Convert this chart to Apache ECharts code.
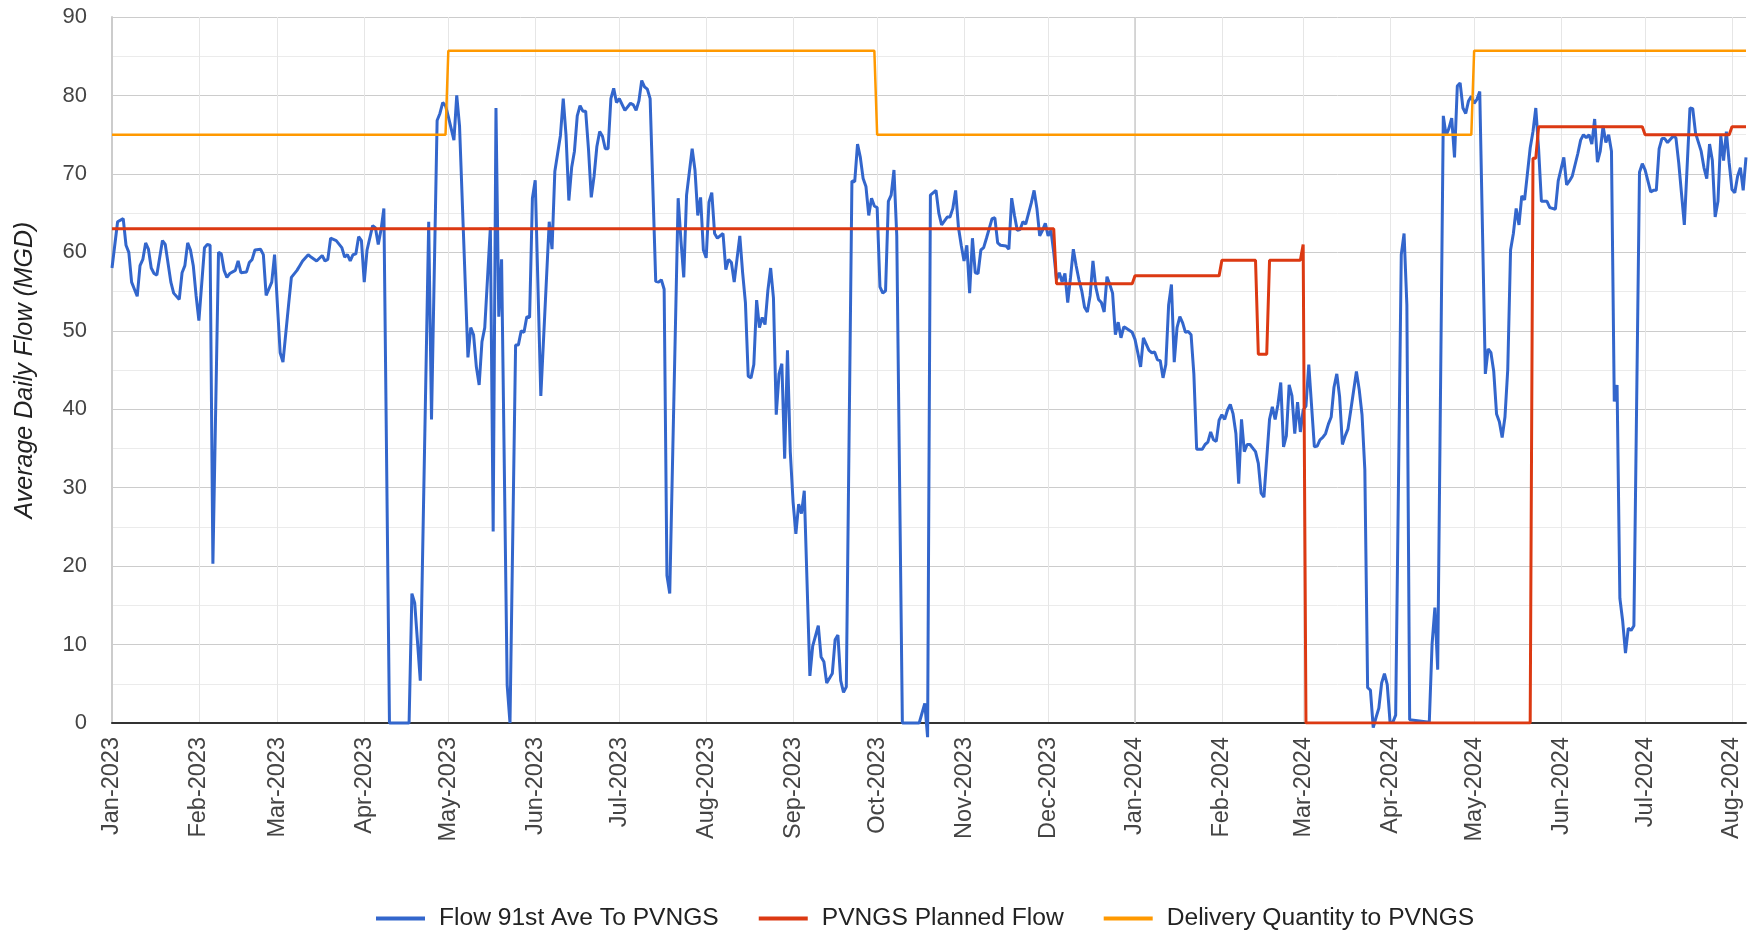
<!DOCTYPE html>
<html>
<head>
<meta charset="utf-8">
<title>Flow 91st Ave To PVNGS</title>
<script src="https://cdn.jsdelivr.net/npm/echarts@6/dist/echarts.min.js"></script>
<style>
    html, body { margin: 0; padding: 0; background: #fff; }
    #chart { width: 1750px; height: 933px; }
</style>
</head>
<body>
<div id="chart"></div>
<script>
    // days counted from 1 Jan 2023
    const flowDay = [
        0, 2, 4, 5, 6, 7, 8, 9, 10, 11, 12, 13, 14, 15, 16, 18, 19, 21, 22, 24, 25, 26, 27, 28, 29, 30, 31,
        33, 34, 35, 36, 38, 39, 40, 41, 42, 44, 45, 46, 48, 49, 50, 51, 53, 54, 55, 57, 58,
        60, 61, 63, 64, 66, 67, 68, 70, 71, 73, 75, 76, 77, 78, 80, 82, 83, 84, 85, 86, 87, 88, 89,
        90, 91, 93, 94, 95, 96, 97, 99, 106, 107, 108, 110, 113, 114, 116, 117, 118, 119,
        120, 122, 123, 124, 127, 128, 129, 130, 131, 132, 133, 134, 135, 136, 137, 138, 139, 141, 142, 144, 145, 146, 147, 148, 149, 150,
        151, 153, 156, 157, 158, 160, 161, 162, 163, 164, 165, 166, 167, 168, 169, 170, 171, 172, 173, 174, 175, 176, 177, 178, 179, 180, 181,
        183, 185, 186, 187, 188, 189, 190, 191, 192, 194, 195, 196, 197, 198, 199, 202, 203, 204, 205, 207, 208, 209, 210, 211,
        212, 213, 214, 215, 216, 218, 219, 220, 221, 222, 224, 225, 226, 227, 228, 229, 230, 231, 232, 233, 234, 235, 236, 237, 238, 239, 240, 241, 242,
        243, 244, 245, 246, 247, 249, 250, 252, 253, 254, 255, 257, 258, 259, 260, 261, 262, 264, 265, 266, 267, 268, 269, 270, 271, 272,
        273, 274, 275, 276, 277, 278, 279, 280, 282, 288, 290, 291, 292, 294, 295, 296, 298, 299, 300, 301, 302, 303,
        304, 305, 306, 307, 308, 309, 310, 311, 312, 314, 315, 316, 317, 319, 320, 321, 322, 323, 324, 325, 326, 328, 329, 330, 331, 332, 333,
        334, 335, 336, 337, 338, 339, 340, 341, 342, 343, 344, 345, 346, 347, 348, 349, 350, 351, 352, 353, 354, 355, 356, 357, 358, 359, 360, 361, 362, 364,
        365, 366, 367, 368, 369, 370, 371, 372, 373, 374, 375, 376, 377, 378, 379, 380, 381, 382, 383, 384, 385, 386, 387, 389, 390, 391, 392, 393, 394, 395,
        396, 397, 398, 399, 400, 401, 402, 403, 404, 405, 406, 408, 409, 410, 411, 413, 414, 415, 416, 417, 418, 419, 420, 421, 422, 423, 424,
        425, 426, 427, 429, 430, 431, 432, 433, 434, 435, 436, 437, 438, 439, 440, 441, 442, 444, 445, 446, 447, 448, 449, 450, 451, 452, 453, 454, 455,
        456, 457, 458, 460, 461, 462, 463, 470, 471, 472, 473, 475, 476, 477, 478, 479, 480, 481, 482, 483, 484, 485,
        486, 487, 488, 490, 491, 492, 493, 494, 495, 496, 497, 498, 499, 500, 501, 502, 503, 504, 505, 506, 507, 508, 509, 510, 512, 513, 515, 516,
        518, 519, 520, 521, 523, 524, 525, 526, 527, 528, 529, 530, 531, 532, 533, 534, 535, 536, 537, 538, 539, 540, 541, 542, 543, 545, 546,
        547, 549, 550, 551, 552, 553, 554, 555, 557, 558, 559, 561, 563, 564, 565, 567, 568, 569, 570, 571, 572, 573, 574, 575, 576, 577, 578, 579, 580, 581, 582, 583
    ];
    const flowMgd = [
        58.0, 63.9, 64.3, 60.9, 60.0, 56.2, 55.3, 54.4, 58.3, 59.1, 61.2, 60.4, 58.0, 57.3, 57.1, 61.5, 61.0, 56.2, 54.8, 54.0, 57.4, 58.3, 61.2, 60.3, 58.3, 54.5, 51.3,
        60.6, 61.0, 60.9, 20.3, 60.0, 59.8, 57.7, 56.8, 57.3, 57.7, 58.9, 57.4, 57.5, 58.7, 59.1, 60.3, 60.4, 59.7, 54.5, 56.2, 59.7,
        47.2, 46.0, 53.3, 56.8, 57.7, 58.3, 58.9, 59.7, 59.4, 58.9, 59.6, 58.9, 59.1, 61.8, 61.5, 60.6, 59.4, 59.7, 58.9, 59.7, 59.8, 62.0, 61.5,
        56.2, 60.3, 63.4, 63.1, 61.0, 62.9, 65.6, 0, 0, 16.5, 15.3, 5.4, 63.9, 38.7, 76.8, 77.7, 79.1, 78.7,
        77.3, 74.3, 80.0, 76.1, 46.6, 50.4, 49.5, 45.4, 43.1, 48.6, 50.4, 56.8, 63.2, 24.4, 78.4, 51.8, 59.1, 4.8, 0, 48.2, 48.2, 50.0, 49.8, 51.8, 51.7, 66.9,
        69.2, 41.7, 63.9, 60.4, 70.3, 74.9, 79.6, 74.9, 66.6, 70.8, 72.9, 77.4, 78.7, 78.0, 78.0, 73.2, 67.0, 69.7, 73.5, 75.4, 74.8, 73.2, 73.2, 79.6, 80.9, 79.1, 79.6,
        78.1, 79.0, 78.8, 78.1, 79.3, 81.9, 81.1, 80.8, 79.6, 56.3, 56.2, 56.5, 55.3, 18.8, 16.5, 66.9, 61.5, 56.8, 67.3, 73.2, 70.5, 64.7, 67.0, 60.3,
        59.3, 66.4, 67.6, 62.4, 61.8, 62.4, 57.8, 59.1, 58.7, 56.2, 62.1, 57.4, 53.6, 44.2, 44.0, 45.7, 53.9, 50.4, 51.7, 50.8, 55.1, 58.0, 54.2, 39.3, 44.5, 45.8, 33.7, 47.5, 34.6,
        28.2, 24.1, 27.9, 26.7, 29.6, 6.0, 9.8, 12.4, 8.4, 7.8, 5.1, 6.3, 10.6, 11.2, 5.4, 3.9, 4.6, 69.1, 69.0, 73.8, 72.1, 69.4, 68.4, 64.7, 66.9, 65.9,
        65.7, 55.6, 54.8, 55.1, 66.5, 67.3, 70.5, 62.1, 0, 0, 2.5, -1.8, 67.3, 67.9, 65.0, 63.5, 64.5, 64.5, 65.6, 67.9, 63.2, 60.9,
        58.9, 60.9, 54.8, 61.8, 57.4, 57.3, 60.3, 60.6, 61.8, 64.3, 64.4, 61.2, 60.9, 60.8, 60.4, 66.9, 64.7, 62.8, 62.9, 63.9, 63.6, 66.3, 67.9, 65.6, 62.1, 62.8, 63.7,
        62.1, 62.8, 60.0, 56.5, 57.4, 56.2, 57.3, 53.6, 56.8, 60.4, 58.3, 56.5, 55.1, 53.0, 52.4, 54.5, 58.9, 55.6, 54.0, 53.6, 52.4, 56.9, 55.9, 54.8, 49.5, 51.1, 49.1, 50.5, 50.3, 49.8,
        48.9, 47.2, 45.4, 49.1, 48.3, 47.5, 47.2, 47.3, 46.3, 46.2, 44.0, 45.7, 53.3, 55.9, 46.0, 50.4, 51.8, 51.0, 49.8, 49.9, 49.5, 44.5, 34.9, 34.9, 35.5, 35.8, 37.1, 36.1, 35.9, 38.6,
        39.3, 38.7, 39.9, 40.6, 39.4, 36.9, 30.5, 38.7, 34.6, 35.5, 35.5, 34.6, 33.1, 29.3, 28.8, 38.7, 40.3, 38.7, 40.6, 43.4, 35.2, 36.6, 43.1, 41.7, 36.9, 40.9, 37.1,
        39.9, 40.4, 45.7, 35.2, 35.3, 36.1, 36.4, 36.9, 38.1, 39.0, 42.8, 44.5, 41.6, 35.5, 36.6, 37.5, 39.9, 44.8, 42.5, 39.3, 32.3, 4.5, 4.2, -0.6, 0.7, 1.9, 5.1, 6.3, 4.9,
        0.1, 0.1, 1.0, 59.7, 62.4, 53.3, 0.4, 0.1, 10.1, 14.7, 6.8, 77.4, 74.9, 75.8, 77.1, 72.1, 81.2, 81.6, 78.4, 77.7, 79.3, 79.9,
        79.0, 79.5, 80.5, 44.5, 47.7, 47.2, 44.8, 39.4, 38.4, 36.4, 39.0, 45.1, 60.3, 62.4, 65.6, 63.5, 67.2, 66.7, 70.0, 73.3, 75.4, 78.4, 73.2, 66.5, 66.5, 65.7, 65.5, 69.1,
        72.1, 68.6, 69.1, 69.7, 72.6, 74.3, 75.0, 74.6, 75.0, 73.8, 77.0, 71.5, 72.9, 76.1, 74.0, 75.0, 72.9, 41.0, 43.1, 15.9, 13.0, 8.9, 12.1, 11.8, 12.4, 70.2, 71.3,
        70.5, 67.7, 67.9, 67.9, 73.2, 74.5, 74.5, 74.0, 74.8, 74.6, 71.4, 63.5, 78.4, 78.3, 75.2, 72.9, 70.8, 69.4, 73.8, 71.7, 64.5, 66.5, 74.9, 71.7, 75.4, 71.4, 68.0, 67.6, 69.7, 70.8, 67.9, 72.1
    ];

    const plannedDay = [0, 336, 337, 364, 365, 395, 396, 408, 409, 412, 413, 424, 425, 426, 506, 507, 508, 509, 546, 547, 577, 578, 583];
    const plannedMgd = [63, 63, 56, 56, 57, 57, 59, 59, 47, 47, 59, 59, 61, 0, 0, 72, 72, 76, 76, 75, 75, 76, 76];

    const deliveryDay = [0, 119, 120, 272, 273, 485, 486, 583];
    const deliveryMgd = [75, 75, 85.7, 85.7, 75, 75, 85.7, 85.7];

    const monthNames = ['Jan', 'Feb', 'Mar', 'Apr', 'May', 'Jun', 'Jul', 'Aug', 'Sep', 'Oct', 'Nov', 'Dec'];
    const seriesNames = ['Flow 91st Ave To PVNGS', 'PVNGS Planned Flow', 'Delivery Quantity to PVNGS'];
    const yMin = 0, yMax = 90, yStep = 10;
    const firstDay = 0, lastDay = 583;

    const DAY = 24 * 3600 * 1000;
    function dayToTime(d) {
        return new Date(2023, 0, 1 + d).getTime();
    }
    function toPairs(days, values) {
        return days.map((d, i) => [dayToTime(d), values[i]]);
    }

    const chart = echarts.init(document.getElementById('chart'));
    const option = {
        animation: false,
        textStyle: { fontFamily: 'Liberation Sans, Arial, sans-serif' },
        grid: { left: 112, right: 4, top: 17, bottom: 210 },
        legend: {
            data: seriesNames,
            left: 371,
            top: 901,
            icon: 'rect',
            itemWidth: 49,
            itemHeight: 4,
            itemGap: 40,
            textStyle: { fontSize: 24.6, color: '#222', padding: [0, 0, 0, 9] }
        },
        xAxis: {
            type: 'time',
            min: dayToTime(firstDay),
            max: dayToTime(lastDay),
            splitNumber: 20,
            minInterval: 28 * DAY,
            maxInterval: 31 * DAY,
            axisLine: { show: true, onZero: false, lineStyle: { color: '#333', width: 2 } },
            axisTick: { show: false },
            axisLabel: {
                rotate: 90,
                margin: 14,
                fontSize: 23.5,
                color: '#444',
                hideOverlap: false,
                showMinLabel: true,
                formatter: function (value) {
                    const d = new Date(value);
                    if (d.getDate() !== 1) return '';
                    return monthNames[d.getMonth()] + '-' + d.getFullYear();
                }
            },
            splitLine: { show: true, showMaxLine: false, lineStyle: { color: '#e6e6e6', width: 1 } }
        },
        yAxis: {
            type: 'value',
            min: yMin,
            max: yMax,
            interval: yStep,
            name: 'Average Daily Flow (MGD)',
            nameLocation: 'middle',
            nameGap: 74,
            nameTextStyle: { fontSize: 25, fontStyle: 'italic', color: '#222' },
            axisLine: { show: true, lineStyle: { color: '#ccc', width: 2 } },
            axisTick: { show: false },
            axisLabel: { fontSize: 22, color: '#444', margin: 25 },
            splitLine: { lineStyle: { color: '#ccc' } },
            minorTick: { show: false, splitNumber: 2 },
            minorSplitLine: { show: true, lineStyle: { color: '#ebebeb' } }
        },
        series: [
            {
                type: 'line',
                data: [],
                z: 1,
                silent: true,
                markLine: {
                    z: 1,
                    silent: true,
                    symbol: 'none',
                    label: { show: false },
                    lineStyle: { color: '#cccccc', width: 1.5, type: 'solid' },
                    data: [{ xAxis: dayToTime(365) }]
                }
            },
            {
                name: seriesNames[0],
                type: 'line',
                data: toPairs(flowDay, flowMgd),
                showSymbol: false,
                symbol: 'none',
                clip: false,
                z: 3,
                lineStyle: { color: '#3366cc', width: 3 },
                itemStyle: { color: '#3366cc' }
            },
            {
                name: seriesNames[1],
                type: 'line',
                data: toPairs(plannedDay, plannedMgd),
                showSymbol: false,
                symbol: 'none',
                z: 4,
                lineStyle: { color: '#dc3912', width: 3 },
                itemStyle: { color: '#dc3912' }
            },
            {
                name: seriesNames[2],
                type: 'line',
                data: toPairs(deliveryDay, deliveryMgd),
                showSymbol: false,
                symbol: 'none',
                z: 5,
                lineStyle: { color: '#ff9900', width: 2.5 },
                itemStyle: { color: '#ff9900' }
            }
        ]
    };

    chart.setOption(option);
</script>
</body>
</html>
